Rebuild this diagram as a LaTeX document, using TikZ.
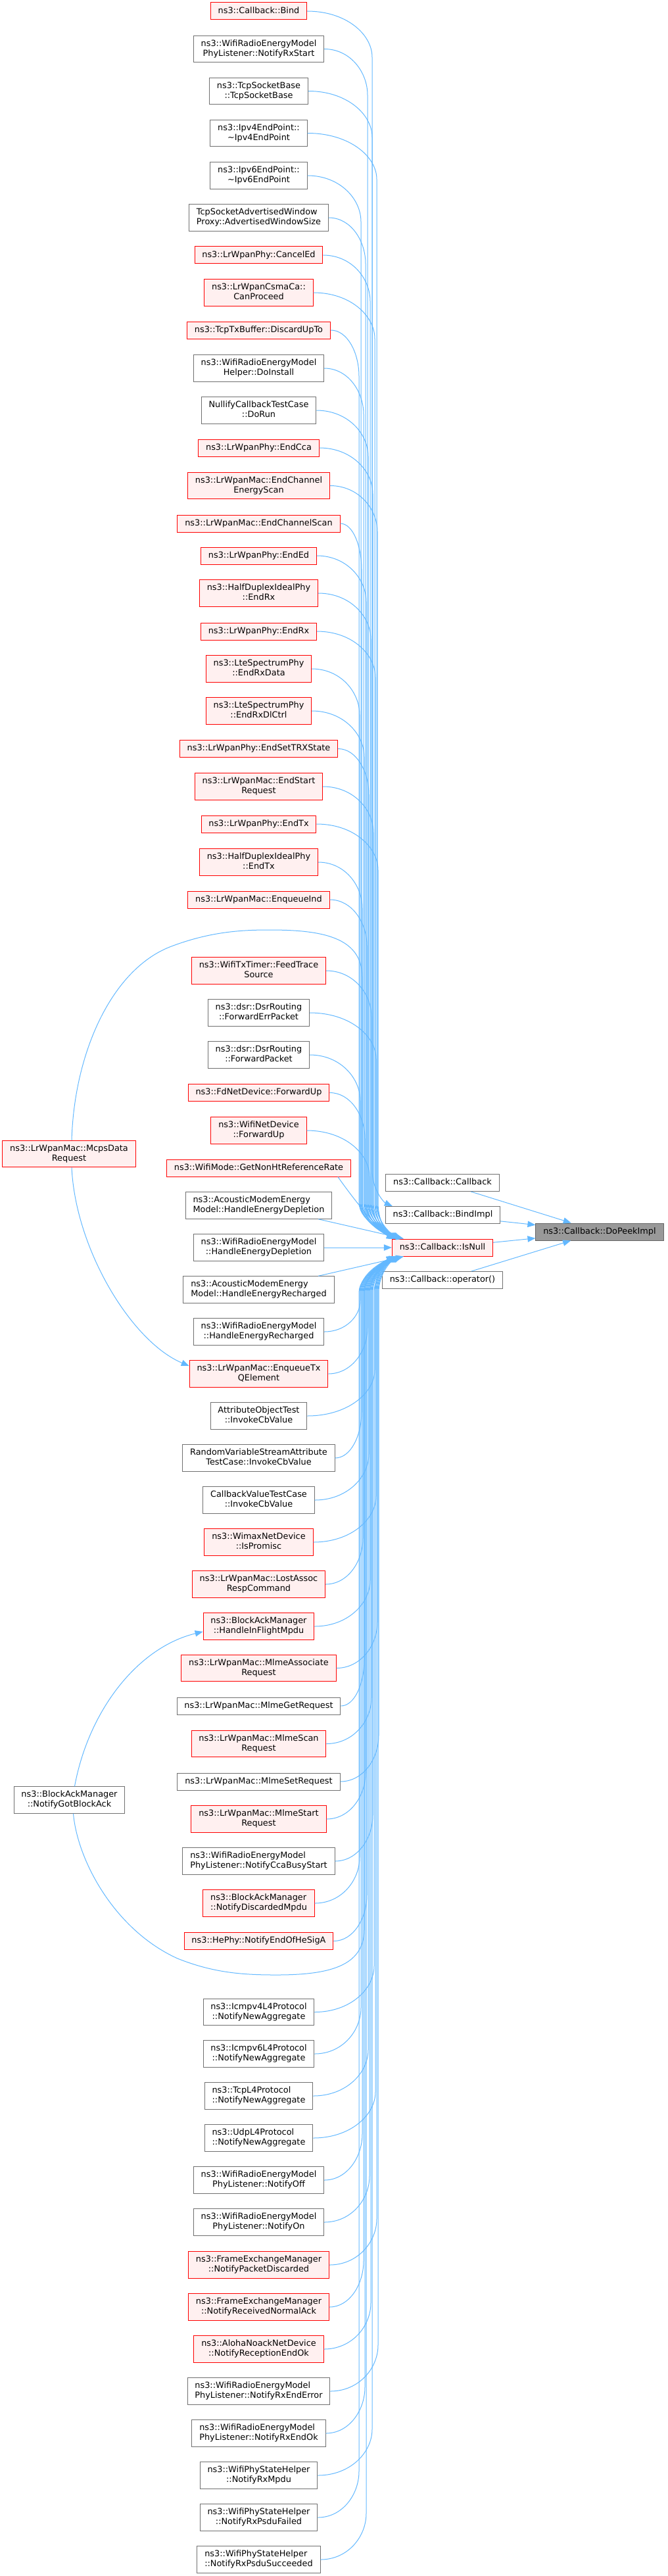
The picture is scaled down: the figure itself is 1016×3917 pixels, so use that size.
\documentclass[tikz,border=0pt]{standalone}
\usepackage{fontspec}
\setmainfont{DejaVu Sans}
\usetikzlibrary{arrows.meta,calc}
\definecolor{edgec}{HTML}{63B8FF}
\definecolor{redfill}{HTML}{FFF0F0}
\definecolor{grayb}{HTML}{707070}
\definecolor{darkb}{HTML}{666666}
\definecolor{darkf}{HTML}{999999}
\newcommand\mstrut{\rule[-2.35pt]{0pt}{9.65pt}}
\newsavebox\tla \newsavebox\tlb \newlength\tlw
\newcommand\twol[2]{%
  \sbox\tla{\mstrut#1}\sbox\tlb{\mstrut#2}%
  \setlength\tlw{\wd\tla}\ifdim\wd\tlb>\tlw \setlength\tlw{\wd\tlb}\fi
  \vbox{\baselineskip=11.25pt\lineskiplimit=-100pt\lineskip=0pt
    \hbox to\tlw{\usebox\tla\hss}\hbox to\tlw{\hss\usebox\tlb\hss}}}
% edge from a caller above the target, down a bundle at x=#3 px
\newcommand\edgedown[3]{%
  \draw[edge] let \p1=(#1.east), \p2=(#2), \n1={min(52.5,0.8*((\y1)-(\y2)-41.25))} in
   (\p1) .. controls ({\x1+0.6*(#3*0.75pt-\x1)},\y1) and ({#3*0.75pt},{\y1-0.5*\n1}) .. ({#3*0.75pt},{\y1-\n1})
   -- ({#3*0.75pt},{\y2+41.25pt}) .. controls ({#3*0.75pt},{\y2+18pt}) and ({\x2-9pt},{\y2+4pt}) .. (\p2);}
% edge from a caller below the target, up a bundle at x=#3 px
\newcommand\edgeup[3]{%
  \draw[edge] let \p1=(#1.east), \p2=(#2), \n1={min(52.5,0.8*((\y2)-(\y1)-41.25))} in
   (\p1) .. controls ({\x1+0.6*(#3*0.75pt-\x1)},\y1) and ({#3*0.75pt},{\y1+0.5*\n1}) .. ({#3*0.75pt},{\y1+\n1})
   -- ({#3*0.75pt},{\y2-41.25pt}) .. controls ({#3*0.75pt},{\y2-18pt}) and ({\x2-9pt},{\y2-4pt}) .. (\p2);}
\begin{document}
\begin{tikzpicture}[x=0.75pt,y=-0.75pt,
  base/.style={draw, line width=0.75pt, inner xsep=8.5pt, inner ysep=0pt,
    font=\fontsize{9.65}{11.25}\selectfont, execute at begin node=\mstrut, anchor=center},
  nred/.style={base, draw=red, fill=redfill},
  ngray/.style={base, draw=grayb, fill=white},
  ndark/.style={base, draw=darkb, fill=darkf},
  lineone/.style={minimum height=19.5pt},
  linetwo/.style={minimum height=30.4pt},
  edge/.style={draw=edgec, line width=0.75pt, -{Triangle[length=9pt,width=7pt]}}]
\useasboundingbox (0,0) rectangle (1016,3917);
% ---- column of callers
\node[nred,lineone]  (n1)  at (393.5,17)    {ns3::Callback::Bind};
\node[ngray,linetwo] (n2)  at (393.5,74.5)  {\twol{ns3::WifiRadioEnergyModel}{PhyListener::NotifyRxStart}};
\node[ngray,linetwo] (n3)  at (393.5,138.5) {\twol{ns3::TcpSocketBase}{::TcpSocketBase}};
\node[ngray,linetwo] (n4)  at (393.5,202.5) {\twol{ns3::Ipv4EndPoint::}{\textasciitilde Ipv4EndPoint}};
\node[ngray,linetwo] (n5)  at (393.5,267)   {\twol{ns3::Ipv6EndPoint::}{\textasciitilde Ipv6EndPoint}};
\node[ngray,linetwo] (n6)  at (393.5,331)   {\twol{TcpSocketAdvertisedWindow}{Proxy::AdvertisedWindowSize}};
\node[nred,lineone]  (n7)  at (393.5,388)   {ns3::LrWpanPhy::CancelEd};
\node[nred,linetwo]  (n8)  at (393.5,445)   {\twol{ns3::LrWpanCsmaCa::}{CanProceed}};
\node[nred,lineone]  (n9)  at (393.5,502)   {ns3::TcpTxBuffer::DiscardUpTo};
\node[ngray,linetwo] (n10) at (393.5,560)   {\twol{ns3::WifiRadioEnergyModel}{Helper::DoInstall}};
\node[ngray,linetwo] (n11) at (393.5,624)   {\twol{NullifyCallbackTestCase}{::DoRun}};
\node[nred,lineone]  (n12) at (393.5,681)   {ns3::LrWpanPhy::EndCca};
\node[nred,linetwo]  (n13) at (393.5,738.5) {\twol{ns3::LrWpanMac::EndChannel}{EnergyScan}};
\node[nred,lineone]  (n14) at (393.5,796)   {ns3::LrWpanMac::EndChannelScan};
\node[nred,lineone]  (n15) at (393.5,845)   {ns3::LrWpanPhy::EndEd};
\node[nred,linetwo]  (n16) at (393.5,902)   {\twol{ns3::HalfDuplexIdealPhy}{::EndRx}};
\node[nred,lineone]  (n17) at (393.5,960)   {ns3::LrWpanPhy::EndRx};
\node[nred,linetwo]  (n18) at (393.5,1017)  {\twol{ns3::LteSpectrumPhy}{::EndRxData}};
\node[nred,linetwo]  (n19) at (393.5,1081)  {\twol{ns3::LteSpectrumPhy}{::EndRxDlCtrl}};
\node[nred,lineone]  (n20) at (393.5,1138.5){ns3::LrWpanPhy::EndSetTRXState};
\node[nred,linetwo]  (n21) at (393.5,1196)  {\twol{ns3::LrWpanMac::EndStart}{Request}};
\node[nred,lineone]  (n22) at (393.5,1253)  {ns3::LrWpanPhy::EndTx};
\node[nred,linetwo]  (n23) at (393.5,1311)  {\twol{ns3::HalfDuplexIdealPhy}{::EndTx}};
\node[nred,lineone]  (n24) at (393.5,1368)  {ns3::LrWpanMac::EnqueueInd};
\node[nred,linetwo]  (n25) at (393.5,1476)  {\twol{ns3::WifiTxTimer::FeedTrace}{Source}};
\node[ngray,linetwo] (n26) at (393.5,1540)  {\twol{ns3::dsr::DsrRouting}{::ForwardErrPacket}};
\node[ngray,linetwo] (n27) at (393.5,1604)  {\twol{ns3::dsr::DsrRouting}{::ForwardPacket}};
\node[nred,lineone]  (n28) at (393.5,1661.5){ns3::FdNetDevice::ForwardUp};
\node[nred,linetwo]  (n29) at (393.5,1719)  {\twol{ns3::WifiNetDevice}{::ForwardUp}};
\node[nred,lineone]  (n30) at (393.5,1776)  {ns3::WifiMode::GetNonHtReferenceRate};
\node[ngray,linetwo] (n31) at (393.5,1833)  {\twol{ns3::AcousticModemEnergy}{Model::HandleEnergyDepletion}};
\node[ngray,linetwo] (n32) at (393.5,1897)  {\twol{ns3::WifiRadioEnergyModel}{::HandleEnergyDepletion}};
\node[ngray,linetwo] (n33) at (393.5,1961)  {\twol{ns3::AcousticModemEnergy}{Model::HandleEnergyRecharged}};
\node[ngray,linetwo] (n34) at (393.5,2025)  {\twol{ns3::WifiRadioEnergyModel}{::HandleEnergyRecharged}};
\node[nred,linetwo]  (n35) at (393.5,2089)  {\twol{ns3::LrWpanMac::EnqueueTx}{QElement}};
\node[ngray,linetwo] (n36) at (393.5,2153)  {\twol{AttributeObjectTest}{::InvokeCbValue}};
\node[ngray,linetwo] (n37) at (393.5,2217)  {\twol{RandomVariableStreamAttribute}{TestCase::InvokeCbValue}};
\node[ngray,linetwo] (n38) at (393.5,2281)  {\twol{CallbackValueTestCase}{::InvokeCbValue}};
\node[nred,linetwo]  (n39) at (393.5,2345)  {\twol{ns3::WimaxNetDevice}{::IsPromisc}};
\node[nred,linetwo]  (n40) at (393.5,2409)  {\twol{ns3::LrWpanMac::LostAssoc}{RespCommand}};
\node[nred,linetwo]  (n41) at (393.5,2473)  {\twol{ns3::BlockAckManager}{::HandleInFlightMpdu}};
\node[nred,linetwo]  (n42) at (393.5,2536.5){\twol{ns3::LrWpanMac::MlmeAssociate}{Request}};
\node[ngray,lineone] (n43) at (393.5,2594)  {ns3::LrWpanMac::MlmeGetRequest};
\node[nred,linetwo]  (n44) at (393.5,2651.5){\twol{ns3::LrWpanMac::MlmeScan}{Request}};
\node[ngray,lineone] (n45) at (393.5,2709)  {ns3::LrWpanMac::MlmeSetRequest};
\node[nred,linetwo]  (n46) at (393.5,2766)  {\twol{ns3::LrWpanMac::MlmeStart}{Request}};
\node[ngray,linetwo] (n47) at (393.5,2830)  {\twol{ns3::WifiRadioEnergyModel}{PhyListener::NotifyCcaBusyStart}};
\node[nred,linetwo]  (n48) at (393.5,2894)  {\twol{ns3::BlockAckManager}{::NotifyDiscardedMpdu}};
\node[nred,lineone]  (n49) at (393.5,2951.5){ns3::HePhy::NotifyEndOfHeSigA};
\node[ngray,linetwo] (n50) at (393.5,3059.5){\twol{ns3::Icmpv4L4Protocol}{::NotifyNewAggregate}};
\node[ngray,linetwo] (n51) at (393.5,3123)  {\twol{ns3::Icmpv6L4Protocol}{::NotifyNewAggregate}};
\node[ngray,linetwo] (n52) at (393.5,3187)  {\twol{ns3::TcpL4Protocol}{::NotifyNewAggregate}};
\node[ngray,linetwo] (n53) at (393.5,3251)  {\twol{ns3::UdpL4Protocol}{::NotifyNewAggregate}};
\node[ngray,linetwo] (n54) at (393.5,3315)  {\twol{ns3::WifiRadioEnergyModel}{PhyListener::NotifyOff}};
\node[ngray,linetwo] (n55) at (393.5,3379)  {\twol{ns3::WifiRadioEnergyModel}{PhyListener::NotifyOn}};
\node[nred,linetwo]  (n56) at (393.5,3444)  {\twol{ns3::FrameExchangeManager}{::NotifyPacketDiscarded}};
\node[nred,linetwo]  (n57) at (393.5,3508)  {\twol{ns3::FrameExchangeManager}{::NotifyReceivedNormalAck}};
\node[nred,linetwo]  (n58) at (393.5,3572)  {\twol{ns3::AlohaNoackNetDevice}{::NotifyReceptionEndOk}};
\node[ngray,linetwo] (n59) at (393.5,3636)  {\twol{ns3::WifiRadioEnergyModel}{PhyListener::NotifyRxEndError}};
\node[ngray,linetwo] (n60) at (393.5,3700)  {\twol{ns3::WifiRadioEnergyModel}{PhyListener::NotifyRxEndOk}};
\node[ngray,linetwo] (n61) at (393.5,3764)  {\twol{ns3::WifiPhyStateHelper}{::NotifyRxMpdu}};
\node[ngray,linetwo] (n62) at (393.5,3828)  {\twol{ns3::WifiPhyStateHelper}{::NotifyRxPsduFailed}};
\node[ngray,linetwo] (n63) at (393.5,3892)  {\twol{ns3::WifiPhyStateHelper}{::NotifyRxPsduSucceeded}};
% ---- left callers
\node[nred,linetwo]  (mcps) at (105,1754.5) {\twol{ns3::LrWpanMac::McpsData}{Request}};
\node[ngray,linetwo] (got)  at (105.5,2737) {\twol{ns3::BlockAckManager}{::NotifyGotBlockAck}};
% ---- right column
\node[ngray,lineone] (cb)       at (673,1798.5)   {ns3::Callback::Callback};
\node[ngray,lineone] (bindimpl) at (673.5,1847.5) {ns3::Callback::BindImpl};
\node[nred,lineone]  (isnull)   at (673,1897)     {ns3::Callback::IsNull};
\node[ngray,lineone] (op)       at (673,1946.5)   {ns3::Callback::operator()};
\node[ndark,lineone] (dpi)      at (912,1873)     {ns3::Callback::DoPeekImpl};
% ---- edges
\edgedown{n1}{$(bindimpl.north west)+(11,0)$}{566}
\foreach \i in {2,...,29}{%
  \pgfmathtruncatemacro\bxv{545+mod(\i*7,31)}%
  \pgfmathtruncatemacro\edv{4+mod(\i*5,12)}%
  \edgedown{n\i}{$(isnull.north west)+(\edv,0)$}{\bxv}}
\draw[edge] ([xshift=-15pt]n30.south east) .. controls (532,1815) and (570,1866) .. ($(isnull.north west)+(6,0)$);
\draw[edge] (n31) -- (isnull);
\draw[edge] (n32) -- (isnull);
\draw[edge] (n33) -- (isnull);
\foreach \i in {34,...,63}{%
  \pgfmathtruncatemacro\bxv{546+mod(\i*11,31)}%
  \pgfmathtruncatemacro\edv{4+mod(\i*5,12)}%
  \edgeup{n\i}{$(isnull.south west)+(\edv,0)$}{\bxv}}
\draw[edge] ($(mcps.north)+(4,0)$) .. controls (113,1600) and (170,1475) .. (258,1440)
   .. controls (320,1416) and (370,1414) .. (410,1414)
   .. controls (490,1414) and (550,1425) .. (551,1485) -- (551,1830)
   .. controls (551,1860) and (590,1878) .. ($(isnull.north west)+(8,0)$);
\draw[edge] ($(mcps.south)+(4,0)$) .. controls (115,1900) and (200,2040) .. ($(n35.west)+(0,-12)$);
\draw[edge] ($(got.north)+(8,0)$) .. controls (135,2600) and (210,2505) .. ($(n41.west)+(0,8)$);
\draw[edge] ($(got.south)+(6,0)$) .. controls (118,2830) and (175,2935) .. (270,2978)
   .. controls (325,3000) and (370,3003) .. (420,3003)
   .. controls (500,3003) and (553,2990) .. (554,2935) -- (554,1965)
   .. controls (554,1935) and (590,1915) .. ($(isnull.south west)+(8,0)$);
\draw[edge] (cb) -- (dpi);
\draw[edge] (bindimpl) -- (dpi);
\draw[edge] (isnull) -- (dpi);
\draw[edge] (op) -- (dpi);
\end{tikzpicture}
\end{document}
